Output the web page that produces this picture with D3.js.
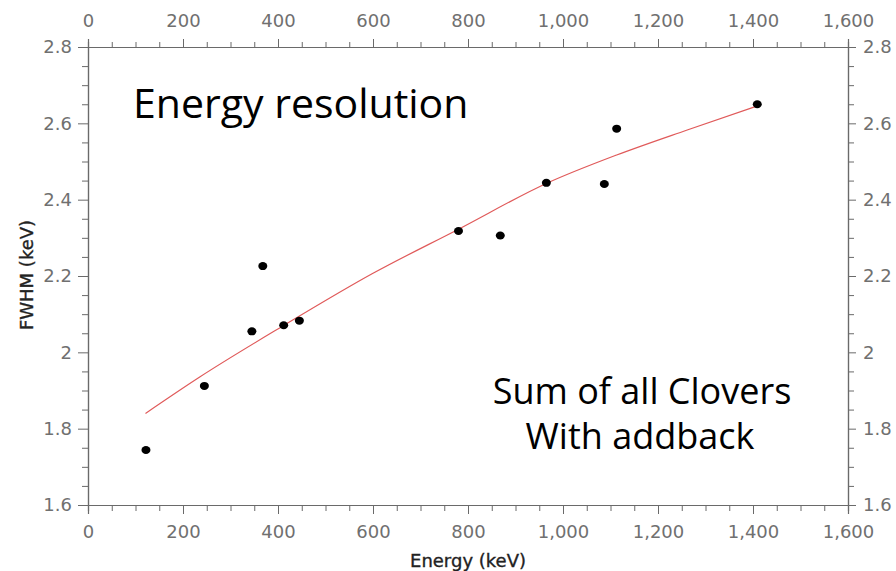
<!DOCTYPE html>
<html>
<head>
    <meta charset="utf-8">
    <title>Energy resolution</title>
    <script src="https://d3js.org/d3.v7.min.js"></script>
    <style type="text/css">
        body { margin: 0; background: #fff; }
        .axis path, .axis line { stroke: #6a6a6a; }
        .axis text { fill: #707070; font-family: "DejaVu Sans", sans-serif; font-size: 18px; }
        .title { font-family: "Open Sans", sans-serif; fill: #000; }
        .axis-label { font-family: "DejaVu Sans", sans-serif; font-size: 18px; fill: #222; stroke: #222; stroke-width: 0.35; }
    </style>
</head>
<body>
    <script type="text/javascript">
        let energy = [122, 245, 345, 368, 412, 445, 780, 868, 965, 1087, 1113, 1409];
        let fwhm   = [1.744, 1.912, 2.055, 2.226, 2.071, 2.083, 2.318, 2.306, 2.444, 2.441, 2.586, 2.650];

        // fitted curve
        let fitEnergy = [121, 236, 413, 600, 779, 966, 1113, 1260, 1408];
        let fitFwhm   = [1.840, 1.936, 2.071, 2.207, 2.322, 2.443, 2.517, 2.582, 2.645];

        let xTicks = [0, 200, 400, 600, 800, 1000, 1200, 1400, 1600];
        let yTicks = [1.6, 1.8, 2, 2.2, 2.4, 2.6, 2.8];

        let width = 896, height = 571;
        let plotLeft = 88, plotRight = 848, plotTop = 47, plotBottom = 505;

        let svg = d3.select("body").append("svg")
            .attr("width", width)
            .attr("height", height);

        let x = d3.scaleLinear().domain([0, 1600]).range([plotLeft, plotRight]);
        let y = d3.scaleLinear().domain([1.6, 2.8]).range([plotBottom, plotTop]);

        let xMinor = d3.range(0, 1601, 50).filter(v => v % 200 != 0);
        let yMinor = d3.range(1.65, 2.8, 0.05).filter(v => Math.abs(v * 5 - Math.round(v * 5)) > 0.01);

        // minor ticks first
        svg.append("g").attr("class", "axis")
            .attr("transform", `translate(0,${plotBottom})`)
            .call(d3.axisBottom(x).tickValues(xMinor).tickSize(6).tickFormat(""));
        svg.append("g").attr("class", "axis")
            .attr("transform", `translate(0,${plotTop})`)
            .call(d3.axisTop(x).tickValues(xMinor).tickSize(5).tickFormat(""));
        svg.append("g").attr("class", "axis")
            .attr("transform", `translate(${plotLeft},0)`)
            .call(d3.axisLeft(y).tickValues(yMinor).tickSize(6).tickFormat(""));
        svg.append("g").attr("class", "axis")
            .attr("transform", `translate(${plotRight},0)`)
            .call(d3.axisRight(y).tickValues(yMinor).tickSize(6).tickFormat(""));

        // major ticks with labels
        svg.append("g").attr("class", "axis")
            .attr("transform", `translate(0,${plotBottom})`)
            .call(d3.axisBottom(x).tickValues(xTicks).tickSize(9).tickPadding(11).tickFormat(d3.format(",")));
        svg.append("g").attr("class", "axis")
            .attr("transform", `translate(0,${plotTop})`)
            .call(d3.axisTop(x).tickValues(xTicks).tickSize(8).tickPadding(12).tickFormat(d3.format(",")));
        svg.append("g").attr("class", "axis")
            .attr("transform", `translate(${plotLeft},0)`)
            .call(d3.axisLeft(y).tickValues(yTicks).tickSize(10).tickPadding(6).tickFormat(d3.format("")));
        svg.append("g").attr("class", "axis")
            .attr("transform", `translate(${plotRight},0)`)
            .call(d3.axisRight(y).tickValues(yTicks).tickSize(8).tickPadding(7).tickFormat(d3.format("")));

        svg.selectAll(".axis .domain").attr("stroke-width", 1.2);

        // fit line
        let line = d3.line()
            .x((d, i) => x(fitEnergy[i]))
            .y(d => y(d))
            .curve(d3.curveMonotoneX);
        svg.append("path")
            .attr("d", line(fitFwhm))
            .attr("fill", "none")
            .attr("stroke", "#e05a5a")
            .attr("stroke-width", 1.2);

        // points
        svg.selectAll("ellipse.pt")
            .data(energy)
            .enter().append("ellipse")
            .attr("class", "pt")
            .attr("cx", d => x(d))
            .attr("cy", (d, i) => y(fwhm[i]))
            .attr("rx", 4.5)
            .attr("ry", 4)
            .attr("fill", "#000");

        // axis titles
        svg.append("text").attr("class", "axis-label")
            .attr("text-anchor", "middle")
            .attr("transform", "translate(33,275) rotate(-90)")
            .text("FWHM (keV)");
        svg.append("text").attr("class", "axis-label")
            .attr("text-anchor", "middle")
            .attr("x", (plotLeft + plotRight) / 2)
            .attr("y", 567)
            .text("Energy (keV)");

        // annotations
        svg.append("text").attr("class", "title")
            .attr("x", 133).attr("y", 118)
            .style("font-size", "41px")
            .text("Energy resolution");
        svg.append("text").attr("class", "title")
            .attr("x", 642).attr("y", 404)
            .attr("text-anchor", "middle")
            .style("font-size", "36px")
            .text("Sum of all Clovers");
        svg.append("text").attr("class", "title")
            .attr("x", 640).attr("y", 449)
            .attr("text-anchor", "middle")
            .style("font-size", "36px")
            .text("With addback");
    </script>
</body>
</html>
